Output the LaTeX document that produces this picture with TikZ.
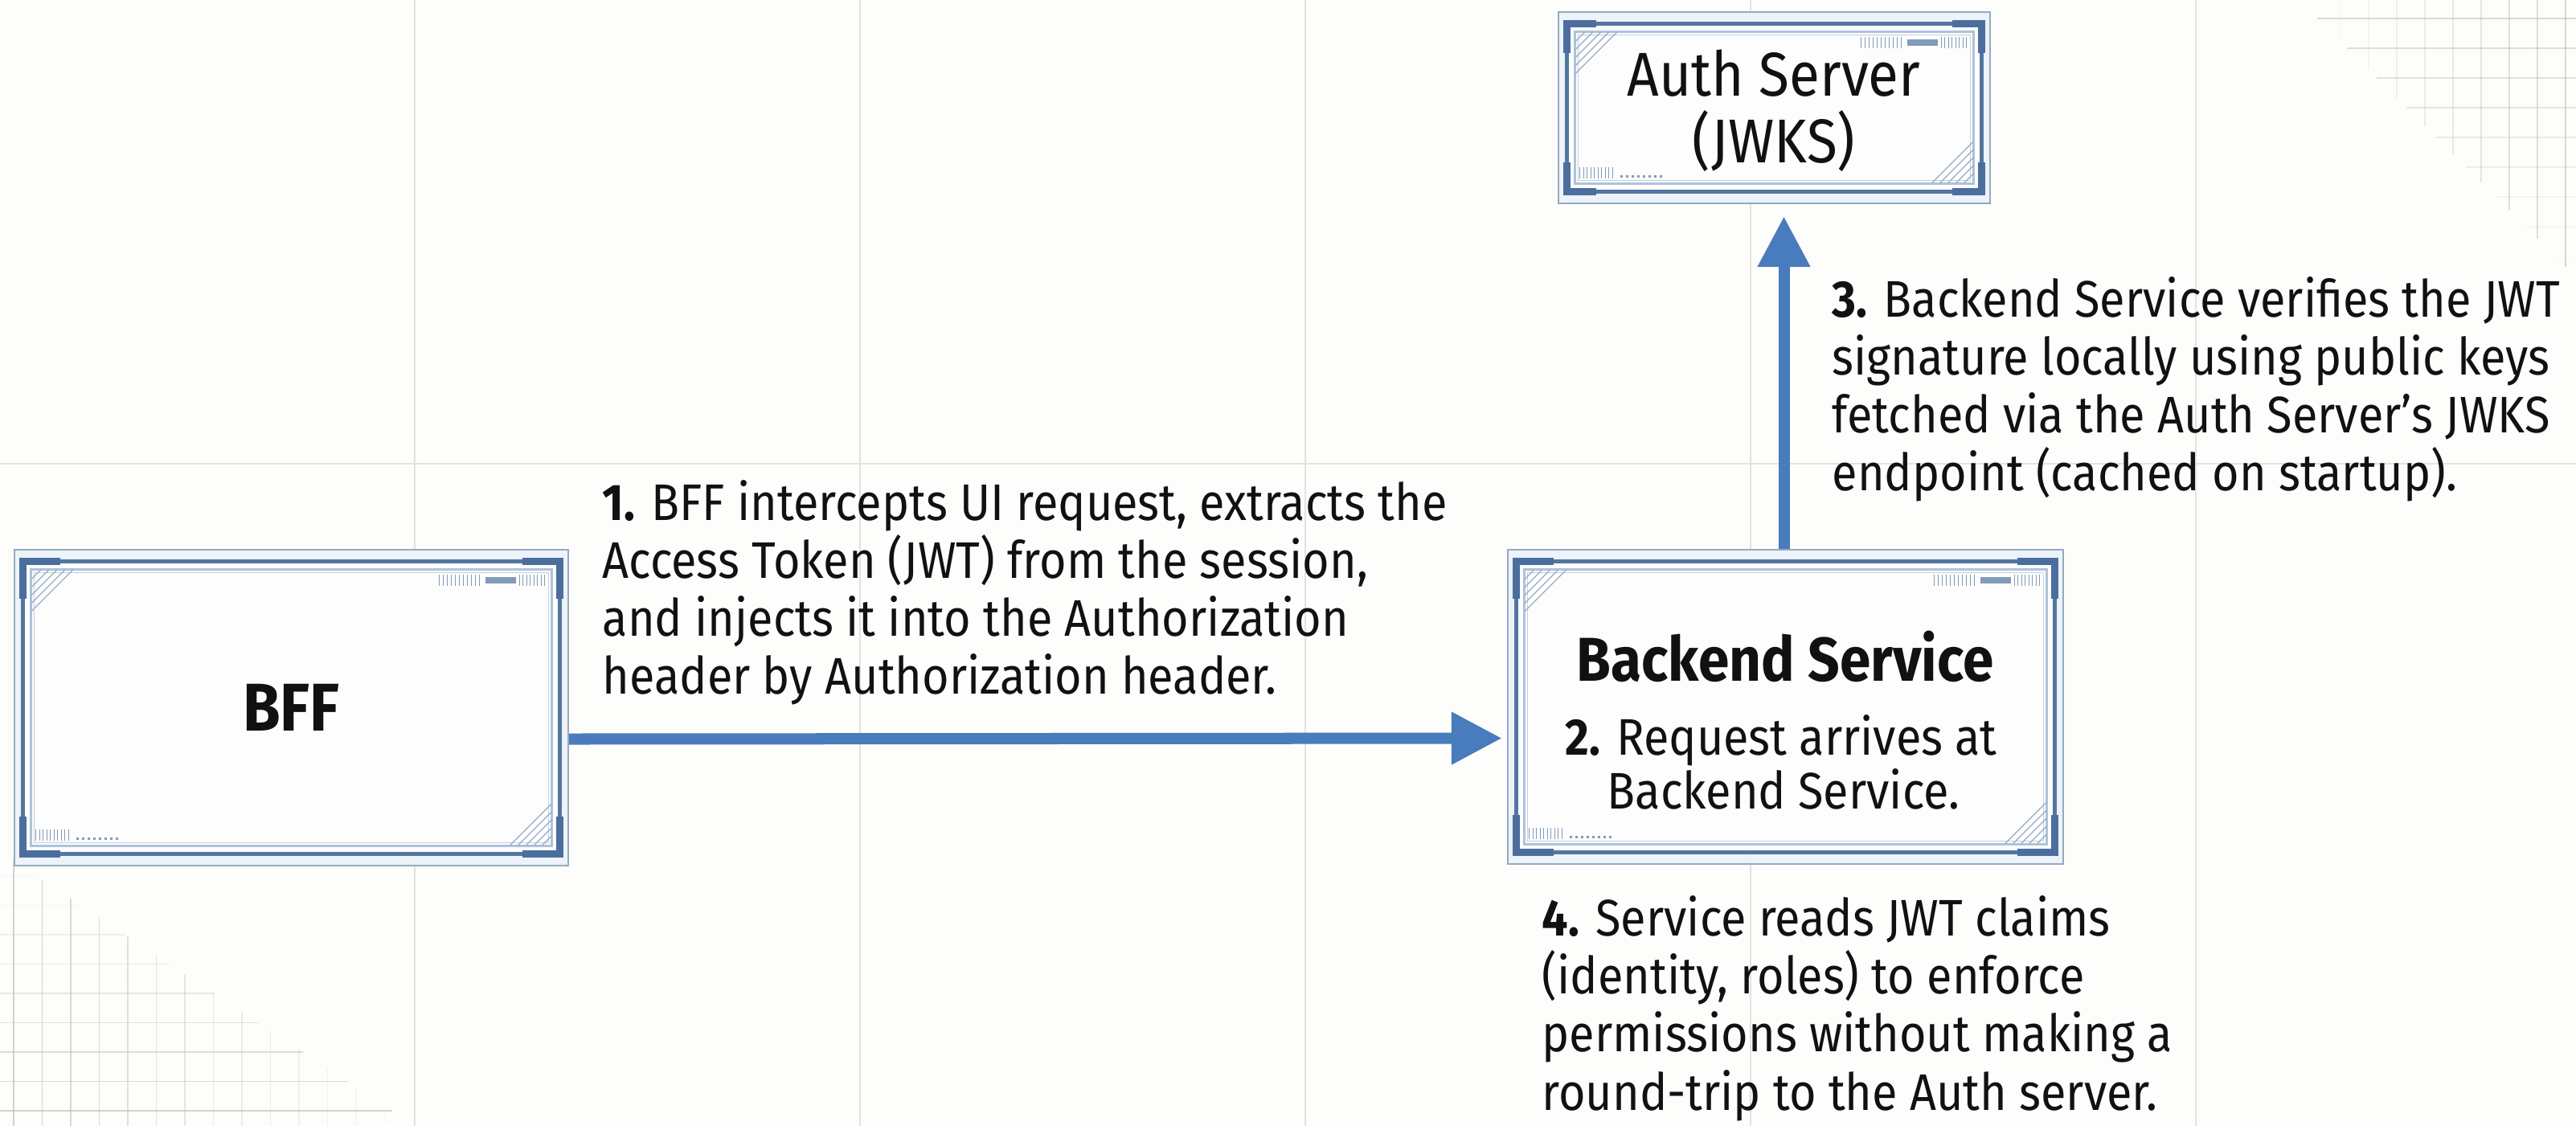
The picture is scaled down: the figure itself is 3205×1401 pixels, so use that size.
\documentclass[tikz,border=0pt]{standalone}
\usepackage{fontspec}
\setmainfont{Fira Sans}[FakeStretch=0.9]
\usetikzlibrary{arrows.meta,calc}
\definecolor{bgcol}{RGB}{253,253,251}
\definecolor{gridcol}{RGB}{226,226,224}
\definecolor{finecol}{RGB}{190,190,185}
\definecolor{frameout}{RGB}{150,170,192}
\definecolor{bandcol}{RGB}{236,243,250}
\definecolor{framecol}{RGB}{84,118,158}
\definecolor{brackcol}{RGB}{76,110,158}
\definecolor{innercol}{RGB}{172,196,220}
\definecolor{innertwo}{RGB}{198,208,218}
\definecolor{hatchcol}{RGB}{150,172,196}
\definecolor{barcol}{RGB}{130,155,185}
\definecolor{arrowcol}{RGB}{72,124,188}
\definecolor{txtcol}{RGB}{17,17,17}
\tikzset{
  boxouter/.style={rectangle, draw=frameout, line width=0.02cm, fill=bandcol, fill opacity=0.9, inner sep=0pt},
  framethick/.style={draw=framecol, line width=0.05cm, fill=white, fill opacity=0.9},
  bracket/.style={draw=brackcol, line width=0.09cm, line join=miter},
  innerline/.style={draw=innercol, line width=0.03cm},
  innerlinetwo/.style={draw=innertwo, line width=0.01cm},
  hatch/.style={draw=hatchcol, line width=0.012cm},
  bartick/.style={draw=barcol, line width=0.012cm},
  txt/.style={inner sep=0pt, anchor=base west, text=txtcol, font=\fontsize{18.2pt}{20.5pt}\selectfont},
  ctxt/.style={txt, anchor=base},
  arr/.style={draw=arrowcol, line width=0.14cm, -{Triangle[length=0.63cm, width=0.62cm]}},
  biggrid/.style={draw=gridcol, line width=0.02cm},
  finegrid/.style={draw=finecol, line width=0.015cm}
}
\newcommand\fancyframe[2]{% #1 node name, #2 bracket length
  \coordinate (#1-a) at ([shift={(12,16)}]#1.north west);
  \coordinate (#1-b) at ([shift={(-12,-16)}]#1.south east);
  \coordinate (#1-ne) at (#1-b |- #1-a);
  \coordinate (#1-sw) at (#1-a |- #1-b);
  \coordinate (#1-c) at ([shift={(10,10)}]#1-a);
  \coordinate (#1-d) at ([shift={(-10,-10)}]#1-b);
  \coordinate (#1-cne) at (#1-d |- #1-c);
  \coordinate (#1-csw) at (#1-c |- #1-d);
  \path[framethick] (#1-a) rectangle (#1-b);
  \draw[innerline] (#1-c) rectangle (#1-d);
  \draw[innerlinetwo] ([shift={(4,4)}]#1-c) rectangle ([shift={(-4,-4)}]#1-d);
  \draw[bracket] ([shift={(0,#2)}]#1-a) -- (#1-a) -- ([shift={(#2,0)}]#1-a);
  \draw[bracket] ([shift={(-#2,0)}]#1-ne) -- (#1-ne) -- ([shift={(0,#2)}]#1-ne);
  \draw[bracket] ([shift={(0,-#2)}]#1-b) -- (#1-b) -- ([shift={(-#2,0)}]#1-b);
  \draw[bracket] ([shift={(#2,0)}]#1-sw) -- (#1-sw) -- ([shift={(0,-#2)}]#1-sw);
  \foreach \d in {12,22,32,42,52}{
    \draw[hatch] ([shift={(\d,0)}]#1-c) -- ([shift={(0,\d)}]#1-c);
    \draw[hatch] ([shift={(-\d,0)}]#1-d) -- ([shift={(0,-\d)}]#1-d);
  }
  \foreach \k in {0,...,10}{
    \draw[bartick] ([shift={(-140+5*\k,6)}]#1-cne) -- ([shift={(-140+5*\k,20)}]#1-cne);
  }
  \fill[barcol] ([shift={(-82,9)}]#1-cne) rectangle ([shift={(-44,17)}]#1-cne);
  \foreach \k in {0,...,7}{
    \draw[bartick] ([shift={(-40+4.5*\k,6)}]#1-cne) -- ([shift={(-40+4.5*\k,20)}]#1-cne);
  }
  \foreach \k in {0,...,9}{
    \draw[bartick] ([shift={(6+4.5*\k,-6)}]#1-csw) -- ([shift={(6+4.5*\k,-20)}]#1-csw);
  }
  \foreach \k in {0,...,7}{
    \fill[barcol] ([shift={(56+7*\k,-7)}]#1-csw) rectangle ([shift={(59+7*\k,-10)}]#1-csw);
  }
}
\begin{document}
\begin{tikzpicture}[x=0.01cm, y=-0.01cm]
\useasboundingbox (0,0) rectangle (3205,1401);
\fill[bgcol] (0,0) rectangle (3205,1401);
% big background grid
\foreach \x in {516,1070,1624,2178,2732}{\draw[biggrid] (\x,0) -- (\x,1401);}
\draw[biggrid] (0,577) -- (3205,577);
% fine grid, bottom left
\foreach \i in {0,...,14}{
  \pgfmathsetmacro\xx{17+35.5*\i}
  \pgfmathsetmacro\yt{1060+\xx*0.66}
  \pgfmathsetmacro\op{max(0,0.7*(1-\xx/530))}
  \draw[finegrid, opacity=\op] (\xx,1401) -- (\xx,\yt);
}
\foreach \j in {0,...,9}{
  \pgfmathsetmacro\yy{1382-36.5*\j}
  \pgfmathsetmacro\xe{max(0,(\yy-1060)/0.66)}
  \pgfmathsetmacro\op{max(0,0.7*(\yy-1060)/341)}
  \draw[finegrid, opacity=\op] (0,\yy) -- (\xe,\yy);
}
% fine grid, top right
\foreach \i in {-2,...,7}{
  \pgfmathsetmacro\xx{2947+35*\i}
  \pgfmathsetmacro\yb{max(0,\xx-2860)}
  \pgfmathsetmacro\op{max(0,0.6*(\xx-2860)/345)}
  \draw[finegrid, opacity=\op] (\xx,0) -- (\xx,\yb);
}
\foreach \j in {0,...,9}{
  \pgfmathsetmacro\yy{23+37*\j}
  \pgfmathsetmacro\xs{2860+\yy}
  \pgfmathsetmacro\op{max(0,0.6*(1-\yy/345))}
  \draw[finegrid, opacity=\op] (\xs,\yy) -- (3205,\yy);
}
% boxes
\node[boxouter, minimum width=6.89cm, minimum height=3.93cm] (bff) at (362.5,880.5) {};
\fancyframe{bff}{46}
\node[inner sep=0pt, text=txtcol, font=\fontsize{23.9pt}{26pt}\selectfont\bfseries] (bfftext) at (bff.center) {BFF};

\node[boxouter, minimum width=6.91cm, minimum height=3.91cm] (backend) at (2221.5,879.5) {};
\fancyframe{backend}{46}
\node[ctxt, font=\fontsize{21.9pt}{24pt}\selectfont\bfseries] (bstitle) at (2221,848) {Backend Service};
\node[ctxt] (bsa) at (2216,940) {\textbf{2.} Request arrives at};
\node[ctxt] (bsb) at (2219,1007) {Backend Service.};

\node[boxouter, minimum width=5.37cm, minimum height=2.38cm] (auth) at (2207.5,134) {};
\fancyframe{auth}{36}
\node[ctxt, font=\fontsize{21.9pt}{24pt}\selectfont] (autha) at (2207,120) {Auth Server};
\node[ctxt, font=\fontsize{21.9pt}{24pt}\selectfont] (authb) at (2207,203) {(JWKS)};

% connectors
\draw[arr, shorten >=0.06cm] ([yshift=-0.39cm]bff.east) -- ([yshift=-0.39cm]backend.west);
\draw[arr, shorten >=0.15cm] ([xshift=-0.02cm]backend.north) -- ([xshift=-0.02cm]backend.north |- auth.south);

% step texts
\node[txt] (s1a) at (749,648) {\textbf{1.} BFF intercepts UI request, extracts the};
\node[txt] (s1b) at (749,720) {Access Token (JWT) from the session,};
\node[txt] (s1c) at (749,792) {and injects it into the Authorization};
\node[txt] (s1d) at (749,864) {header by Authorization header.};

\node[txt] (s3a) at (2279,395) {\textbf{3.} Backend Service verifies the JWT};
\node[txt] (s3b) at (2279,467) {signature locally using public keys};
\node[txt] (s3c) at (2279,539) {fetched via the Auth Server's JWKS};
\node[txt] (s3d) at (2279,611) {endpoint (cached on startup).};

\node[txt] (s4a) at (1918,1165) {\textbf{4.} Service reads JWT claims};
\node[txt] (s4b) at (1918,1237) {(identity, roles) to enforce};
\node[txt] (s4c) at (1918,1309) {permissions without making a};
\node[txt] (s4d) at (1918,1381) {round-trip to the Auth server.};
\end{tikzpicture}
\end{document}
